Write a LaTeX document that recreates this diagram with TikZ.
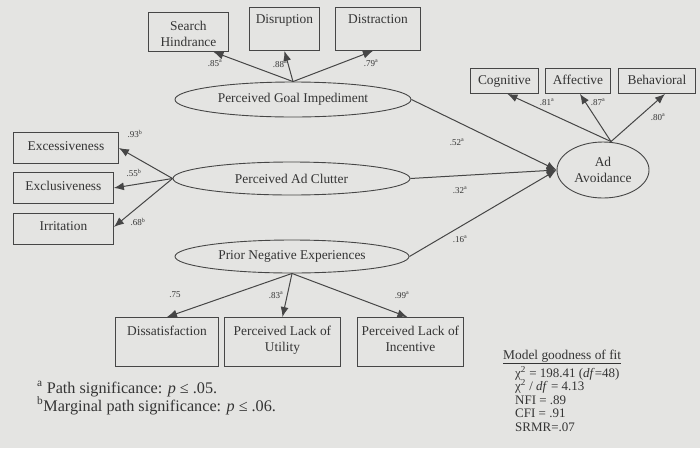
\documentclass[tikz,border=0pt]{standalone}
\usepackage{fontspec}
\setmainfont{Liberation Serif}
\usetikzlibrary{shapes.geometric,arrows.meta}
\definecolor{bgc}{RGB}{228,228,226}
\definecolor{linec}{RGB}{70,70,70}
\definecolor{txtc}{RGB}{52,52,52}
\tikzset{
  font={\fontsize{13.4pt}{16.5pt}\selectfont}}
\newcommand{\boxtext}[4]{\parbox[t][#2pt][t]{#1pt}{\centering\rule{0pt}{#3pt}#4}}

\begin{document}
\begin{tikzpicture}[x=1pt,y=-1pt]
\tikzstyle{every node}+=[inner sep=0pt, text=txtc]
\tikzstyle{ind}=[draw=linec, line width=0.9pt, fill=bgc, anchor=north west]
\tikzstyle{lat}=[ellipse, draw=linec, line width=0.9pt, fill=bgc]
\tikzstyle{link}=[draw=linec, line width=1pt, -{Latex[length=10pt,width=8pt]}]
\tikzstyle{coef}=[font={\fontsize{9pt}{10pt}\selectfont}]
\tikzstyle{note}=[anchor=base west, font={\fontsize{16.2pt}{18pt}\selectfont}]
\tikzstyle{fitline}=[anchor=base west, font={\fontsize{13pt}{14pt}\selectfont}]
\fill [bgc] (0,0) rectangle (700,448);
% latent variables
\node [lat, minimum width=236, minimum height=35] (goal) at (293,99.5) {Perceived Goal Impediment};
\node [lat, minimum width=237, minimum height=33] (clutter) at (291.5,178.5) {Perceived Ad Clutter};
\node [lat, minimum width=234, minimum height=33] (prior) at (292,256.5) {Prior Negative Experiences};
\node [lat, minimum width=92, minimum height=56, align=center] (aa) at (603,170) {Ad\\Avoidance};
% indicators
\node [ind] (sh) at (148,12) {\boxtext{80}{39}{18}{Search\\Hindrance}};
\node [ind] (dr) at (249,7) {\boxtext{70}{43}{16.5}{Disruption}};
\node [ind] (dt) at (335,7) {\boxtext{85}{43}{16.5}{Distraction}};
\node [ind] (ex) at (13,132) {\boxtext{105}{31}{18}{Excessiveness}};
\node [ind] (xc) at (13,172) {\boxtext{100}{31}{18}{Exclusiveness}};
\node [ind] (ir) at (13,213) {\boxtext{100}{31}{17}{Irritation}};
\node [ind] (ds) at (115,317) {\boxtext{103}{49}{18}{Dissatisfaction}};
\node [ind] (ul) at (224,317) {\boxtext{116}{49}{18}{Perceived Lack of\\Utility}};
\node [ind] (ic) at (357,317) {\boxtext{106}{49}{18}{Perceived Lack of\\Incentive}};
\node [ind] (cg) at (470,68) {\boxtext{68}{25}{16.5}{Cognitive}};
\node [ind] (af) at (545,68) {\boxtext{65}{25}{16.5}{Affective}};
\node [ind] (bh) at (618,68) {\boxtext{77}{25}{16.5}{Behavioral}};
% loadings
\draw [link] (goal.north) -- ([xshift=25]sh.south);
\draw [link] (goal.north) -- (dr.south);
\draw [link] (goal.north) -- ([xshift=-5]dt.south);
\draw [link] (clutter.west) -- (ex.east);
\draw [link] (clutter.west) -- (xc.east);
\draw [link] (clutter.west) -- ([yshift=2]ir.east);
\draw [link] (prior.south) -- (ds.north);
\draw [link] (prior.south) -- (ul.north);
\draw [link] (prior.south) -- ([xshift=-3]ic.north);
\draw [link] ([xshift=8]aa.north) -- ([xshift=3]cg.south);
\draw [link] ([xshift=8]aa.north) -- ([xshift=2]af.south);
\draw [link] ([xshift=8]aa.north) -- ([xshift=8]bh.south);
% structural paths
\draw [link] (goal.east) -- (aa.west);
\draw [link] (clutter.east) -- (aa.west);
\draw [link] (prior.east) -- (aa.west);
% coefficients
\node [coef] (c1) at (215,63) {.85\textsuperscript{a}};
\node [coef] (c2) at (280,64) {.88\textsuperscript{a}};
\node [coef] (c3) at (371,63) {.79\textsuperscript{a}};
\node [coef] (c4) at (135,134) {.93\textsuperscript{b}};
\node [coef] (c5) at (134,173) {.55\textsuperscript{b}};
\node [coef] (c6) at (138,222) {.68\textsuperscript{b}};
\node [coef] (c7) at (175,295) {.75};
\node [coef] (c8) at (276,295) {.83\textsuperscript{a}};
\node [coef] (c9) at (402,295) {.99\textsuperscript{a}};
\node [coef] (c10) at (547,102) {.81\textsuperscript{a}};
\node [coef] (c11) at (598,102) {.87\textsuperscript{a}};
\node [coef] (c12) at (658,117) {.80\textsuperscript{a}};
\node [coef] (c13) at (457,142) {.52\textsuperscript{a}};
\node [coef] (c14) at (460,190) {.32\textsuperscript{a}};
\node [coef] (c15) at (460,239) {.16\textsuperscript{a}};
% notes
\node [note] (na) at (37,393) {\textsuperscript{a} Path significance: \textit{p} ≤ .05.};
\node [note] (nb) at (37,411) {\textsuperscript{b}Marginal path significance: \textit{p} ≤ .06.};
\node [anchor=base west] (fit) at (503,359) {\underline{Model goodness of fit}};
\node [fitline] (f1) at (515,377) {χ\textsuperscript{2} = 198.41 (\textit{df}=48)};
\node [fitline] (f2) at (515,390) {χ\textsuperscript{2} / \textit{df} = 4.13};
\node [fitline] (f3) at (515,404) {NFI = .89};
\node [fitline] (f4) at (515,417) {CFI = .91};
\node [fitline] (f5) at (515,431) {SRMR=.07};
\end{tikzpicture}
\end{document}
